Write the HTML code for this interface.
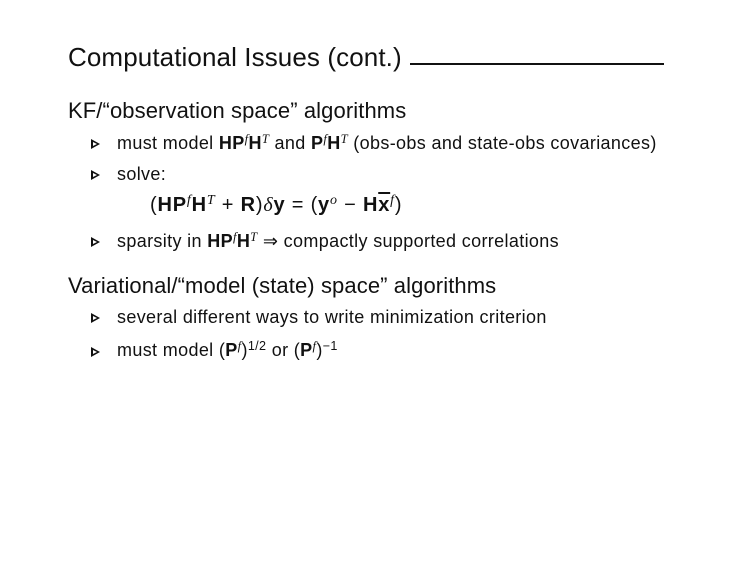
<!DOCTYPE html>
<html><head><meta charset="utf-8"><style>
body{margin:0;width:735px;height:571px;background:#fff;position:relative;overflow:hidden;font-family:"Liberation Sans",sans-serif;color:#111}
.t{position:absolute;white-space:nowrap;line-height:1}
.s{font-size:18px;letter-spacing:0.35px}
.b{font-weight:bold}
.i{font-family:"Liberation Serif",serif;font-style:italic}
sup{font-size:70%;vertical-align:0;position:relative;top:-0.5em}
.tri{position:absolute;width:0;height:0;border-top:5px solid transparent;border-bottom:5px solid transparent;border-left:9px solid #111}
.tri::after{content:"";position:absolute;left:-7px;top:-2.5px;border-top:2.5px solid transparent;border-bottom:2.5px solid transparent;border-left:4px solid #fff}
</style></head><body>
<div class="t" style="left:68px;top:44px;font-size:26px;letter-spacing:0.1px">Computational Issues (cont.)</div>
<div style="position:absolute;left:410px;top:63px;width:254px;height:2px;background:#111"></div>
<div class="t" style="left:68px;top:100px;font-size:22px;letter-spacing:0.1px">KF/“observation space” algorithms</div>
<div class="tri" style="left:91px;top:139px"></div>
<div class="t s" style="left:117px;top:134px">must model <span class="b">HP</span><sup class="i">f</sup><span class="b">H</span><sup class="i">T</sup> and <span class="b">P</span><sup class="i">f</sup><span class="b">H</span><sup class="i">T</sup> (obs-obs and state-obs covariances)</div>
<div class="tri" style="left:91px;top:170px"></div>
<div class="t s" style="left:117px;top:165px">solve:</div>
<div class="t" style="left:150px;top:195px;font-size:20px;letter-spacing:0.8px">(<span class="b">HP</span><sup class="i">f</sup><span class="b">H</span><sup class="i">T</sup> + <span class="b">R</span>)<span class="i">δ</span><span class="b">y</span> = (<span class="b">y</span><sup class="i">o</sup> − <span class="b">H</span><span class="b" style="text-decoration:overline">x</span><sup class="i">f</sup>)</div>
<div class="tri" style="left:91px;top:237px"></div>
<div class="t s" style="left:117px;top:232px">sparsity in <span class="b">HP</span><sup class="i">f</sup><span class="b">H</span><sup class="i">T</sup> ⇒ compactly supported correlations</div>
<div class="t" style="left:68px;top:275px;font-size:22px;letter-spacing:0.1px">Variational/“model (state) space” algorithms</div>
<div class="tri" style="left:91px;top:313px"></div>
<div class="t s" style="left:117px;top:308px">several different ways to write minimization criterion</div>
<div class="tri" style="left:91px;top:347px"></div>
<div class="t s" style="left:117px;top:341px">must model (<span class="b">P</span><sup class="i">f</sup>)<sup>1/2</sup> or (<span class="b">P</span><sup class="i">f</sup>)<sup>−1</sup></div>
</body></html>
